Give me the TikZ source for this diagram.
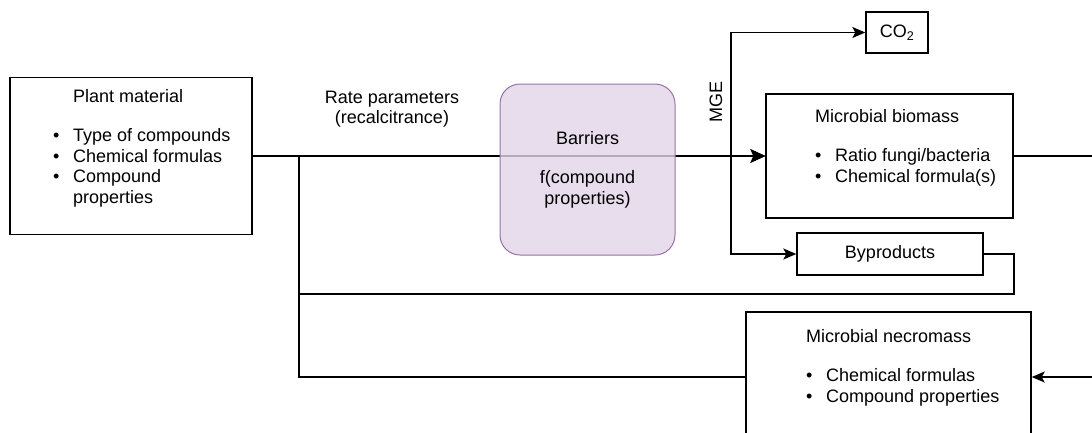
\documentclass[tikz,border=0pt]{standalone}
\usepackage{fontspec}
\setmainfont{Liberation Sans}
\usetikzlibrary{arrows.meta}

\definecolor{barrierfill}{HTML}{E1D5E7}
\definecolor{barrierline}{HTML}{9673A6}

\newcommand{\bitem}[1]{\makebox[20pt][l]{\textbullet}#1}
\newcommand{\bskip}{\hspace*{20pt}}

\begin{document}
\begin{tikzpicture}[x=1pt,y=-1pt]


\tikzset{box/.style  = {draw, line width=1.4pt, inner sep=0pt, font=\fontsize{18}{20.5}\selectfont},
         txt/.style  = {inner sep=0pt, align=left, font=\fontsize{18}{20.5}\selectfont},
         flow/.style = {line width=1.4pt, -{Stealth[length=13pt,width=11pt,inset=3pt]}},
         main/.style = {line width=2.4pt, -{Stealth[length=15pt,width=14pt,inset=3pt]}}}

\useasboundingbox (0,0) rectangle (1092,432);


\node[box, minimum width=242pt, minimum height=157pt] (plant) at (131,156) {};
\node[box, minimum width=247pt, minimum height=124pt] (bio)   at (889.5,156) {};
\node[box, minimum width=62pt,  minimum height=41pt]  (co2)   at (897,32.5) {CO\textsubscript{2}};
\node[box, minimum width=186pt, minimum height=42pt]  (byp)   at (890,254) {Byproducts};
\node[box, minimum width=285pt, minimum height=130pt] (necro) at (888.5,377) {};

\node[txt, anchor=north west] (plantlbl) at (53,89)
  {\bskip Plant material\\[19pt]
   \bitem{Type of compounds}\\
   \bitem{Chemical formulas}\\
   \bitem{Compound}\\
   \bskip properties};
\node[txt, anchor=north west] (biolbl) at (815,109)
  {Microbial biomass\\[19pt]
   \bitem{Ratio fungi/bacteria}\\
   \bitem{Chemical formula(s)}};
\node[txt, anchor=north west] (necrolbl) at (806,329)
  {Microbial necromass\\[19pt]
   \bitem{Chemical formulas}\\
   \bitem{Compound properties}};
\node[txt, align=center] (rate) at (392,109) {Rate parameters\\(recalcitrance)};
\node[txt, rotate=90] (mge) at (716,102) {MGE};


\coordinate (join)  at (299,156);
\coordinate (split) at (731,156);
\coordinate (bend)  at (1014,294);
\coordinate (out)   at (1110,156);

\draw[flow] (split) |- (co2.west);
\draw[flow] (split) |- (byp.west);
\draw[flow] (byp.east) -| (bend) -| (join) -- (bio.west);
\draw[flow] (necro.west) -| (join) -- (bio.west);
\draw[flow] (bio.east) -- (out) |- (necro.east);
\draw[main] (plant.east) -- (bio.west);


\node[box, draw=barrierline, line width=1pt, fill=barrierfill, fill opacity=0.8, text opacity=1,
      rounded corners=20pt, minimum width=175pt, minimum height=171pt, align=center]
  (barrier) at (587.5,169.5) {Barriers\\[19pt]f(compound\\properties)};

\end{tikzpicture}
\end{document}
